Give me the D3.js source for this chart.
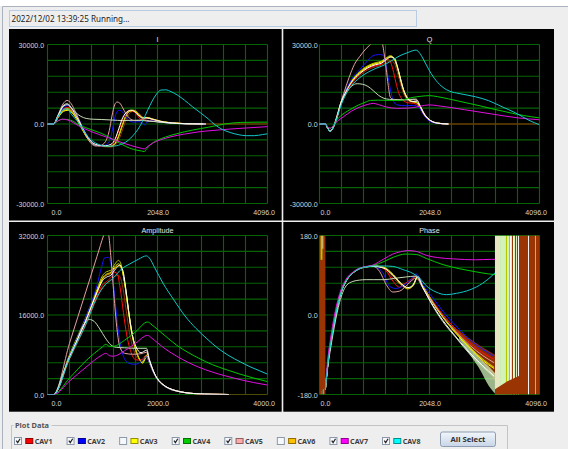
<!DOCTYPE html>
<html>
<head>
<meta charset="utf-8">
<script src="https://cdn.jsdelivr.net/npm/d3@7"></script>
<style>
html,body{margin:0;padding:0;background:#eeeeee;}
svg{display:block;}
</style>
</head>
<body>
<svg id="chart" width="568" height="449"></svg>
<script>
// ---------- series identity ----------
const seriesKeys = ["brown","orange","yellow","red","olive","blue","pink","sage","white","green","magenta","cyan"];

// ---------- I channel ----------
const iBrown = [[0,0],[110,0],[200,2500],[300,5000],[390,5400],[480,4000],[570,1200],[660,-2300],[760,-5600],[880,-7800],[1020,-8500],[1170,-8700],[1260,-8100],[1330,-5800],[1400,-2000],[1470,2000],[1550,4500],[1620,4900],[1690,4200],[1760,2800],[1830,2300],[1900,2200],[2000,1700],[2150,900],[2400,300],[2700,60],[3000,0],[4096,0]];
const iOrange = [[0,0],[110,0],[200,2600],[300,5100],[385,5500],[470,4100],[560,1400],[650,-2100],[750,-5500],[870,-7700],[1000,-8300],[1150,-8500],[1240,-7800],[1310,-5200],[1380,-1200],[1450,2700],[1520,4800],[1590,5100],[1660,4400],[1730,3000],[1790,2300],[1860,2400],[1960,1800],[2100,1000],[2400,300],[2700,60],[2950,0]];
const iYellow = [[0,0],[110,0],[200,2500],[300,4800],[385,5200],[470,3900],[560,1300],[650,-2200],[750,-5600],[870,-7800],[1000,-8300],[1150,-8500],[1240,-7800],[1310,-5300],[1380,-1300],[1450,2600],[1520,4700],[1590,5000],[1660,4300],[1730,2900],[1790,2300],[1860,2400],[1960,1800],[2100,1000],[2400,300],[2700,60],[2950,0]];
const iRed = [[0,0],[110,0],[200,2800],[300,5800],[385,6300],[470,4800],[560,1800],[650,-1800],[750,-5200],[870,-7500],[1000,-8300],[1140,-8500],[1230,-7200],[1300,-4000],[1370,0],[1450,3800],[1530,5100],[1600,4700],[1680,3000],[1740,1700],[1800,1900],[1860,2200],[1960,1600],[2100,900],[2400,300],[2700,60],[2950,0]];
const iOlive = [[0,0],[110,0],[200,2700],[300,5400],[385,5900],[470,4400],[560,1500],[650,-2000],[750,-5400],[870,-7600],[1000,-8200],[1150,-8500],[1240,-7900],[1310,-5500],[1380,-1500],[1450,2500],[1520,4800],[1580,5300],[1650,4800],[1720,3200],[1780,2300],[1850,2500],[1950,1900],[2100,1100],[2400,350],[2700,60],[2950,0]];
const iBlue = [[0,0],[110,0],[200,3000],[300,6300],[385,7000],[460,5600],[530,3700],[620,400],[700,-3000],[800,-6400],[900,-7900],[1000,-8300],[1100,-7700],[1170,-5600],[1220,-1000],[1270,3600],[1330,5200],[1400,4500],[1470,2300],[1540,1000],[1620,700],[1700,900],[1760,400],[1800,-400],[1850,700],[1950,1200],[2100,700],[2400,200],[2700,40],[2950,0]];
const iPink = [[0,0],[110,0],[200,3600],[290,7600],[365,8900],[440,7700],[520,4600],[620,0],[720,-4500],[820,-7500],[900,-8300],[990,-8100],[1080,-6600],[1150,-2500],[1200,3000],[1250,7200],[1295,8300],[1345,7900],[1400,6100],[1460,3900],[1530,2100],[1620,1300],[1720,1400],[1800,1500],[1900,1200],[2050,800],[2300,300],[2600,70],[2900,0]];
const iSage = [[0,0],[110,0],[200,3400],[290,6900],[370,7700],[440,6300],[520,4400],[620,2900],[720,2100],[850,1800],[1000,1700],[1200,1500],[1400,1300],[1600,1400],[1750,1400],[1850,1100],[2000,900],[2300,300],[2600,70],[2900,0]];
const iWhite = [[0,0],[110,0],[200,3200],[290,6600],[370,7300],[450,5800],[540,2800],[630,-600],[730,-4300],[840,-7100],[960,-8000],[1080,-8200],[1180,-7700],[1260,-5600],[1330,-1600],[1400,2400],[1480,4600],[1550,5200],[1620,4700],[1700,3100],[1770,2200],[1840,2300],[1950,1800],[2100,1000],[2400,300],[2700,60],[2950,0]];
const iGreen = [[0,0],[110,0],[180,1000],[280,1800],[380,1700],[480,1000],[580,-300],[700,-1300],[850,-2400],[1000,-3500],[1150,-5000],[1300,-6700],[1450,-8400],[1600,-9600],[1750,-10200],[1800,-10400],[1850,-9300],[1930,-7600],[2050,-6100],[2200,-4900],[2400,-3700],[2700,-2300],[3000,-1200],[3300,0],[3600,600],[3900,700],[4096,700]];
const iMagenta = [[0,0],[110,0],[180,1000],[280,1800],[380,1500],[480,500],[580,-700],[750,-2300],[950,-3900],[1150,-5300],[1350,-6800],[1550,-8100],[1750,-9200],[1800,-9400],[1870,-8400],[1950,-7300],[2100,-6000],[2300,-4800],[2550,-3800],[2800,-3000],[3100,-2400],[3400,-1900],[3700,-1500],[4096,-1000]];
const iCyan = [[0,0],[110,0],[200,3000],[300,5500],[370,5700],[450,3500],[550,1200],[650,-1800],[750,-4700],[850,-6600],[950,-7700],[1100,-8400],[1250,-8300],[1400,-7400],[1500,-6200],[1600,-4200],[1700,-1500],[1780,1500],[1860,5000],[1950,8700],[2030,11300],[2110,12800],[2200,12900],[2300,12200],[2420,10900],[2550,9000],[2700,6500],[2850,4200],[3000,1800],[3100,0],[3250,-2000],[3400,-3200],[3550,-4000],[3700,-4400],[3850,-4400],[4000,-4000],[4096,-3700]];

// ---------- Q channel ----------
const qBrown = [[0,0],[110,0],[150,-1400],[200,-2600],[250,-1400],[300,700],[400,7300],[500,11800],[600,15000],[750,18300],[900,20500],[1050,21600],[1150,22200],[1250,23300],[1330,23900],[1390,23000],[1450,19500],[1510,15000],[1570,11200],[1640,9000],[1740,8100],[1830,7800],[1900,6000],[1970,3400],[2060,1400],[2200,300],[2400,0],[4096,0]];
const qOrange = [[0,0],[110,0],[150,-1500],[200,-2700],[250,-1500],[300,900],[400,8000],[500,12600],[600,16000],[750,19300],[900,21500],[1050,22700],[1150,23200],[1250,24600],[1320,25300],[1380,24700],[1440,21800],[1500,17300],[1560,12900],[1630,9900],[1710,8500],[1800,8100],[1870,6400],[1950,3700],[2050,1500],[2200,300],[2400,0]];
const qYellow = [[0,0],[110,0],[150,-1500],[200,-2700],[250,-1500],[300,900],[400,8100],[500,12800],[600,16200],[750,19500],[900,21700],[1050,22900],[1150,23400],[1250,24900],[1320,25500],[1385,24900],[1445,21900],[1505,17400],[1565,13000],[1635,10000],[1715,8600],[1800,8200],[1870,6500],[1950,3700],[2050,1500],[2200,300],[2400,0]];
const qRed = [[0,0],[110,0],[150,-1500],[200,-2700],[250,-1500],[300,800],[400,7800],[500,12300],[600,15500],[750,18800],[900,21000],[1050,22000],[1150,22600],[1220,23900],[1280,24300],[1330,23000],[1380,19500],[1430,15000],[1480,11500],[1550,9000],[1650,8000],[1750,7800],[1850,6500],[1920,4200],[2000,2000],[2100,700],[2250,100],[2400,0]];
const qOlive = [[0,0],[110,0],[150,-1500],[200,-2800],[250,-1500],[300,1000],[400,8300],[500,13000],[600,16400],[750,19800],[900,22000],[1050,23200],[1150,23700],[1250,25100],[1320,25800],[1380,25100],[1440,22000],[1500,17500],[1560,13000],[1620,10000],[1700,8600],[1800,8200],[1870,6500],[1950,3800],[2050,1600],[2200,300],[2400,0]];
const qBlue = [[0,0],[110,0],[150,-1500],[200,-2800],[250,-1500],[300,1000],[400,7500],[500,13000],[600,17000],[750,20500],[900,24000],[1000,25800],[1100,26200],[1180,26000],[1230,23000],[1280,17500],[1330,12000],[1380,8500],[1450,7200],[1600,6900],[1750,7000],[1850,6300],[1920,4000],[2000,1800],[2100,600],[2250,100],[2400,0]];
const qPink = [[0,0],[110,0],[150,-1500],[200,-2600],[250,-1500],[300,1500],[370,6300],[450,11500],[550,17500],[650,22500],[750,25500],[870,28500],[1000,31000],[1080,33000],[1150,32000],[1200,27000],[1240,21000],[1280,14500],[1320,10000],[1380,9300],[1450,9200],[1600,9100],[1750,9200],[1820,8800],[1880,6500],[1950,3500],[2050,1500],[2200,400],[2400,0]];
const qSage = [[0,0],[110,0],[150,-1500],[200,-2700],[250,-1500],[300,1000],[400,7800],[500,11800],[600,14300],[700,15200],[800,15000],[900,14200],[1000,12600],[1100,10800],[1200,9700],[1300,9300],[1500,9100],[1700,9300],[1800,9400],[1860,7500],[1930,4500],[2000,2500],[2100,900],[2250,200],[2400,0]];
const qWhite = [[0,0],[110,0],[150,-1500],[200,-2800],[250,-1500],[300,900],[400,8000],[500,12500],[600,15800],[750,19000],[900,21200],[1050,22400],[1150,22900],[1250,24400],[1330,25300],[1400,24600],[1460,21000],[1520,16000],[1580,12000],[1640,9600],[1720,8500],[1800,8600],[1860,7200],[1940,4000],[2040,1700],[2200,300],[2400,0]];
const qGreen = [[0,0],[110,0],[150,-1000],[200,-1600],[250,-800],[310,1200],[420,3500],[550,5200],[700,6900],[850,8200],[950,8900],[1100,9000],[1300,8900],[1500,8900],[1700,9900],[1900,10500],[2050,10700],[2200,10300],[2400,9500],[2600,8600],[2800,7700],[3000,6800],[3200,5800],[3400,4900],[3600,4000],[3800,3200],[4096,2300]];
const qMagenta = [[0,0],[110,0],[150,-1000],[200,-1600],[250,-800],[310,600],[450,2800],[600,4900],[750,6400],[900,7400],[1000,7800],[1100,7300],[1250,6400],[1450,5900],[1650,6000],[1800,6400],[1950,7000],[2050,7200],[2200,6900],[2450,6200],[2700,5400],[2950,4600],[3200,3800],[3450,3000],[3700,2300],[3900,1900],[4096,1600]];
const qCyan = [[0,0],[110,0],[150,-1500],[200,-2800],[250,-1500],[300,800],[400,7000],[500,11500],[600,14500],[750,17500],[900,19500],[1050,21000],[1200,22200],[1350,24000],[1500,25800],[1650,27000],[1800,27900],[1870,26600],[1950,23800],[2050,20000],[2170,16400],[2300,13800],[2420,12400],[2600,11500],[2900,10300],[3150,8800],[3400,6500],[3650,4200],[3900,1400],[4096,-300]];

// ---------- Amplitude ----------
const aBrown = [[0,0],[110,0],[400,7100],[700,14100],[900,19400],[1000,21600],[1070,22300],[1150,22900],[1250,24000],[1310,23800],[1370,21500],[1430,17000],[1490,12500],[1560,9200],[1650,7200],[1740,7000],[1800,7800],[1850,6700],[1900,5300],[1950,4000],[2000,3100],[2100,1950],[2200,1250],[2350,700],[2500,380],[2700,160],[3000,50],[3300,0],[4000,0]];
const aOrange = [[0,0],[110,0],[400,7700],[700,15100],[900,20600],[1000,23200],[1070,24000],[1150,24400],[1230,25500],[1300,25900],[1350,25200],[1410,22000],[1470,17200],[1530,12800],[1590,9600],[1660,7400],[1730,6500],[1800,7700],[1850,6600],[1900,5200],[1950,3900],[2000,3050],[2100,1900],[2200,1200],[2350,680],[2500,370],[2700,150],[3000,45],[3300,0]];
const aYellow = [[0,0],[110,0],[400,7800],[700,15300],[900,20800],[1000,23400],[1070,24200],[1150,24600],[1230,25800],[1295,26300],[1345,25500],[1405,22300],[1465,17500],[1525,13000],[1585,9800],[1655,7500],[1730,6300],[1800,7600],[1850,6500],[1900,5100],[1950,3900],[2000,3000],[2100,1900],[2200,1200],[2350,680],[2500,370],[2700,150],[3000,45],[3300,0]];
const aRed = [[0,0],[110,0],[400,7300],[700,14400],[900,19900],[1000,22100],[1070,22700],[1150,23500],[1220,24600],[1270,24300],[1320,21500],[1380,16500],[1440,12000],[1510,8800],[1600,7000],[1700,6900],[1800,7900],[1850,6700],[1900,5300],[1950,4000],[2000,3100],[2100,1950],[2200,1250],[2350,700],[2500,380],[2700,160],[3000,50],[3300,0]];
const aOlive = [[0,0],[110,0],[400,8000],[700,15600],[900,21200],[1000,23900],[1070,24700],[1150,25000],[1230,26300],[1290,27000],[1340,26100],[1400,22600],[1460,17600],[1520,13000],[1580,9800],[1650,7500],[1720,6600],[1800,7900],[1850,6700],[1900,5300],[1950,4000],[2000,3100],[2100,1950],[2200,1250],[2350,700],[2500,380],[2700,160],[3000,50],[3300,0]];
const aBlue = [[0,0],[110,0],[400,7700],[700,15600],[900,22000],[980,25500],[1040,27500],[1110,27600],[1160,25800],[1210,21000],[1270,14500],[1330,9800],[1410,7000],[1500,6200],[1600,6100],[1700,6600],[1800,7600],[1850,6500],[1900,5100],[1950,3900],[2000,3000],[2100,1900],[2200,1200],[2350,680],[2500,370],[2700,150],[3000,45],[3300,0]];
const aPink = [[0,0],[110,0],[400,10300],[700,20800],[900,27800],[1020,32000],[1070,33500],[1110,32300],[1150,28000],[1190,22500],[1230,17000],[1270,12500],[1320,9400],[1400,8300],[1550,8100],[1700,8200],[1800,8500],[1850,6900],[1900,5400],[1950,4100],[2000,3150],[2100,2000],[2200,1300],[2350,720],[2500,390],[2700,160],[3000,50],[3300,0]];
const aSage = [[0,0],[110,0],[300,4800],[500,9800],[650,13900],[760,15100],[850,14700],[950,13200],[1050,11400],[1150,10000],[1250,9500],[1400,9400],[1600,9300],[1800,9300],[1850,7200],[1900,5500],[1950,4100],[2000,3150],[2100,2000],[2200,1300],[2350,720],[2500,390],[2700,160],[3000,50],[3300,0]];
const aWhite = [[0,0],[110,0],[400,7600],[700,14900],[900,20500],[1000,22900],[1070,23600],[1150,24000],[1240,25300],[1310,26000],[1370,25000],[1430,20800],[1490,15600],[1550,11600],[1610,9600],[1700,8400],[1800,8900],[1850,7000],[1900,5400],[1950,4100],[2000,3150],[2100,2000],[2200,1300],[2350,720],[2500,390],[2700,160],[3000,50],[3300,0]];
const aGreen = [[0,0],[110,0],[400,3300],[700,6800],[1000,9600],[1060,10100],[1130,9700],[1200,9700],[1400,10900],[1600,12600],[1820,14600],[1900,14000],[2000,13100],[2150,11700],[2350,9900],[2550,8500],[2750,7300],[3000,6000],[3250,5000],[3500,4100],[3750,3300],[4000,2600]];
const aMagenta = [[0,0],[110,0],[400,2700],[700,5500],[1000,8000],[1060,8300],[1130,7800],[1200,7700],[1400,8800],[1600,10300],[1820,11900],[1900,11300],[2000,10400],[2150,9100],[2350,7700],[2550,6500],[2750,5500],[3000,4500],[3250,3700],[3500,3000],[3750,2400],[4000,1900]];
const aCyan = [[0,0],[110,0],[400,7300],[700,14200],[900,19600],[1050,22100],[1200,23500],[1350,25300],[1500,26300],[1650,27200],[1800,27900],[1850,27500],[1950,25500],[2100,22400],[2300,19000],[2500,15800],[2700,13300],[2900,11200],[3100,9300],[3300,7800],[3500,6600],[3700,5500],[3850,4800],[4000,4100]];

// ---------- Phase ----------
const pRise = [[110,-168],[155,-112],[217,-59],[279,-14],[372,39],[496,77],[621,95],[745,105],[869,109]];
const pBrown = [...pRise,[1000,111],[1150,108],[1280,96],[1400,80],[1520,70],[1630,72],[1740,82],[1810,88],[1920,66],[2110,30],[2300,0],[2550,-34],[2800,-65],[3050,-90],[3250,-104]];
const pOrange = [...pRise,[1000,111],[1200,107],[1365,90],[1550,65],[1645,59],[1740,66],[1830,87],[1925,66],[2110,28],[2300,-5],[2550,-41],[2800,-73],[3050,-101],[3250,-118]];
const pYellow = [...pRise,[1000,111],[1200,108],[1370,92],[1555,67],[1650,61],[1745,67],[1832,86],[1926,65],[2110,27],[2300,-6],[2550,-43],[2800,-75],[3050,-104],[3250,-121]];
const pRed = [...pRise,[1000,111],[1117,110],[1241,100],[1365,77],[1490,63],[1614,73],[1738,84],[1800,88],[1924,65],[2110,31],[2296,1],[2545,-33],[2793,-63],[3041,-86],[3250,-100]];
const pOlive = [...pRise,[1000,111],[1200,107],[1365,91],[1551,66],[1645,60],[1738,66],[1831,87],[1924,67],[2110,29],[2296,-4],[2545,-40],[2793,-72],[3041,-100],[3250,-120]];
const pBlue = [...pRise,[1000,110],[1117,104],[1179,96],[1303,65],[1427,60],[1551,66],[1676,77],[1800,93],[1924,69],[2110,39],[2296,9],[2545,-25],[2793,-55],[3041,-78],[3250,-93]];
const pPink = [...pRise,[1000,110],[1117,99],[1241,69],[1365,52],[1490,54],[1614,66],[1738,80],[1800,84],[1924,61],[2110,28],[2296,-3],[2545,-38],[2793,-68],[3041,-92],[3250,-108]];
const pSage = [[110,-168],[155,-118],[217,-68],[279,-25],[372,28],[496,66],[621,76],[745,79],[869,80],[1000,80],[1200,80],[1400,83],[1600,86],[1800,88],[1924,62],[2110,20],[2296,-15],[2545,-52],[2793,-88],[3041,-118],[3250,-140]];
const pWhite = [...pRise,[1000,110],[1200,106],[1365,90],[1551,68],[1645,62],[1738,68],[1831,87],[1924,62],[2110,22],[2296,-12],[2545,-50],[2793,-85],[3041,-115],[3250,-138]];
const pGreen = [[110,-166],[152,-108],[214,-54],[275,-10],[368,41],[493,79],[621,96],[745,106],[869,109],[993,112],[1100,116],[1200,121],[1400,132],[1600,138],[1800,137],[1990,128],[2300,114],[2600,105],[2900,98],[3150,93],[3420,90]];
const pMagenta = [[110,-165],[150,-105],[210,-50],[270,-6],[360,42],[490,80],[620,97],[745,106],[869,110],[993,113],[1100,120],[1200,127],[1365,138],[1500,143],[1650,146],[1800,144],[1990,135],[2200,130],[2500,127],[2900,125],[3200,126],[3440,126]];
const pCyan = [...pRise,[1000,111],[1200,111],[1365,110],[1550,103],[1740,94],[1860,84],[1990,66],[2170,52],[2360,46],[2550,49],[2800,57],[3040,72],[3230,91],[3350,106]];

// noisy tail of the phase traces: [x, low, high]
const phaseNoiseDark = [[2450,-32,-22],[2650,-56,-40],[2850,-82,-58],[3050,-110,-74],[3270,-150,-90]];
const phaseNoiseLight = [[2600,-55,-46],[2800,-90,-72],[3000,-126,-100],[3150,-160,-116],[3270,-178,-132]];
const phaseNoiseFloor = [[3267,-180,-168],[3500,-180,-150],[3752,-180,-136]];
// wrapped-phase stripes: [x0, x1, trace]
const phaseStripes = [[3267,3361,"beige"],[3361,3472,"mint"],[3472,3491,"olive"],[3491,3528,"mint"],[3528,3547,"olive"],[3547,3565,"white"],[3565,3584,"beige"],[3584,3603,"brown"],[3603,3621,"white"],[3621,3640,"mint"],[3640,3658,"brown"],[3658,3677,"beige"],[3677,3696,"brown"],[3696,3714,"white"],[3714,3882,"brown"],[3882,3900,"white"],[3900,4013,"brown"],[4013,4031,"pink"],[4031,4096,"brown"]];
// start-up region of the phase plot: [x0, x1, y0, y1, trace]
const phaseEdge = [[0,110,-180,180,"brown"],[20,55,125,180,"olive"],[55,70,150,180,"beige"],[60,85,-180,-168,"cyan"],[30,45,-180,-172,"magenta"]];

// ---------- axes ----------
const iqXTicks = [0, 2048, 4096];
const iqYTicks = [-30000, 0, 30000];
const ampXTicks = [0, 2000, 4000];
const ampYTicks = [0, 16000, 32000];
const phaseYTicks = [-180, 0, 180];

// ---------- legend ----------
const legendLabels = ["CAV1","CAV2","CAV3","CAV4","CAV5","CAV6","CAV7","CAV8"];
const legendChecked = [true, true, false, true, true, false, true, true];

// ---------- styling ----------
const palette = {brown:"#9a3403", orange:"#ffa500", yellow:"#ffff00", red:"#ff1010", olive:"#b4c800",
  blue:"#1414ff", pink:"#e4a0a0", sage:"#c4dcb4", white:"#ffffff", green:"#00c800",
  magenta:"#e010e0", cyan:"#10c8c8", beige:"#e6e6c2", mint:"#d2f2b8"};
const legendColors = ["#ff0000","#0000ff","#ffff00","#00cc00","#ffaaaa","#ffc000","#ff00ff","#00ffff"];
const uiFont = "'Noto Sans', 'DejaVu Sans', sans-serif";
const plotFont = "'Liberation Sans', Arial, sans-serif";

const fmt = d3.formatLocale({decimal:".", thousands:"", grouping:[3], currency:["",""], minus:"-"}).format(".1f");

const svg = d3.select("#chart");

// window chrome
svg.append("rect").attr("width",568).attr("height",449).attr("fill","#eeeeee");
svg.append("rect").attr("width",568).attr("height",6).attr("fill","#ffffff");
svg.append("path").attr("d","M2.5,449V6.5H568").attr("fill","none").attr("stroke","#aab2c0");

// status line
svg.append("rect").attr("x",9.5).attr("y",10.5).attr("width",407).attr("height",16)
  .attr("fill","#eeeeee").attr("stroke","#b9cde2");
svg.append("text").attr("x",11.5).attr("y",22).attr("font-family",uiFont).attr("font-size",8.1)
  .attr("fill","#222").text("2022/12/02 13:39:25 Running...");

const panels = [
  {title:"I", box:[9,29,272.7,191.5], plot:[47.5,44.5,220,159], xd:[0,4096], yd:[-30000,30000],
   xt:iqXTicks, yt:iqYTicks, ypad:3.3, x0pad:3.5,
   series:[iBrown,iOrange,iYellow,iRed,iOlive,iBlue,iPink,iSage,iWhite,iGreen,iMagenta,iCyan]},
  {title:"Q", box:[283.3,29,270.7,191.5], plot:[319.5,44.5,220,159], xd:[0,4096], yd:[-30000,30000],
   xt:iqXTicks, yt:iqYTicks, ypad:1.8, x0pad:0.5,
   series:[qBrown,qOrange,qYellow,qRed,qOlive,qBlue,qPink,qSage,qWhite,qGreen,qMagenta,qCyan]},
  {title:"Amplitude", box:[9,222,272.7,189.7], plot:[47.5,235.5,220,159], xd:[0,4000], yd:[0,32000],
   xt:ampXTicks, yt:ampYTicks, ypad:3.3, x0pad:3.5,
   series:[aBrown,aOrange,aYellow,aRed,aOlive,aBlue,aPink,aSage,aWhite,aGreen,aMagenta,aCyan]},
  {title:"Phase", box:[283.3,222,270.7,189.7], plot:[319.5,235.5,220,159], xd:[0,4096], yd:[-180,180],
   xt:iqXTicks, yt:phaseYTicks, ypad:1.8, x0pad:0.5, phase:true,
   series:[pBrown,pOrange,pYellow,pRed,pOlive,pBlue,pPink,pSage,pWhite,pGreen,pMagenta,pCyan]}
];

panels.forEach((p, pi) => {
  const [bx, by, bw, bh] = p.box;
  const [px, py, pw, ph] = p.plot;
  const g = svg.append("g");
  g.append("rect").attr("x",bx).attr("y",by).attr("width",bw).attr("height",bh).attr("fill","#000");

  const x = d3.scaleLinear().domain(p.xd).range([px, px + pw]);
  const y = d3.scaleLinear().domain(p.yd).range([py + ph, py]);

  // 10 x 10 grid
  const gx = d3.range(11).map(i => p.xd[0] + i * (p.xd[1] - p.xd[0]) / 10);
  const gy = d3.range(11).map(i => p.yd[0] + i * (p.yd[1] - p.yd[0]) / 10);
  g.append("g").selectAll("line").data(gx).join("line")
    .attr("x1", d => x(d)).attr("x2", d => x(d)).attr("y1", py).attr("y2", py + ph)
    .attr("stroke","#066306").attr("stroke-width",1.1);
  g.append("g").selectAll("line").data(gy).join("line")
    .attr("y1", d => y(d)).attr("y2", d => y(d)).attr("x1", px).attr("x2", px + pw)
    .attr("stroke","#066306").attr("stroke-width",1.1);

  // title
  g.append("text").attr("x", px + pw / 2).attr("y", py - 3).attr("text-anchor","middle")
    .attr("font-family", plotFont).attr("font-size", 7.2).attr("fill","#e4e4e4").text(p.title);

  // axes
  const ya = g.append("g").attr("transform", `translate(${px},0)`)
    .call(d3.axisLeft(y).tickValues(p.yt).tickSize(0).tickPadding(p.ypad).tickFormat(fmt));
  const xa = g.append("g").attr("transform", `translate(0,${py + ph})`)
    .call(d3.axisBottom(x).tickValues(p.xt).tickSize(0).tickPadding(0).tickFormat(fmt));
  [ya, xa].forEach(a => {
    a.select(".domain").remove();
    a.attr("font-family", plotFont).attr("font-size", 7.1);
    a.selectAll("text").attr("fill", "#d4d4d4");
  });
  ya.selectAll("text").attr("dy", "0.36em");
  xa.selectAll("text").attr("y", 11.8).attr("dy", 0)
    .attr("text-anchor", (d, i) => i === 0 ? "start" : (i === 2 ? "end" : "middle"))
    .attr("x", (d, i) => i === 0 ? p.x0pad : (i === 2 ? 7 : 0));

  // clip for traces
  const cid = "clip" + pi;
  svg.append("clipPath").attr("id", cid).append("rect")
    .attr("x", px).attr("y", py).attr("width", pw).attr("height", ph);
  const plot = g.append("g").attr("clip-path", `url(#${cid})`);

  const band = d3.area().x(d => x(d[0])).y0(d => y(d[1])).y1(d => y(d[2]));
  if (p.phase) {
    plot.selectAll("rect.edge").data(phaseEdge).join("rect").attr("class","edge")
      .attr("x", d => x(d[0])).attr("width", d => x(d[1]) - x(d[0]))
      .attr("y", d => y(d[3])).attr("height", d => y(d[2]) - y(d[3]))
      .attr("fill", d => palette[d[4]]);
    plot.append("path").attr("d", band.curve(d3.curveMonotoneX)(phaseNoiseDark)).attr("fill", palette.brown).attr("opacity",0.85);
    plot.append("path").attr("d", band.curve(d3.curveMonotoneX)(phaseNoiseLight)).attr("fill", palette.mint).attr("opacity",0.75);
  }

  const line = d3.line().x(d => x(d[0])).y(d => y(d[1])).curve(d3.curveMonotoneX);
  plot.selectAll("path.trace").data(p.series).join("path").attr("class","trace")
    .attr("d", line).attr("fill","none")
    .attr("stroke", (d, i) => palette[seriesKeys[i]]).attr("stroke-width", 1);

  if (p.phase) {
    plot.selectAll("rect.stripe").data(phaseStripes).join("rect").attr("class","stripe")
      .attr("x", d => x(d[0])).attr("width", d => x(d[1]) - x(d[0]))
      .attr("y", y(180)).attr("height", y(-180) - y(180))
      .attr("fill", d => palette[d[2]]);
    plot.append("path").attr("d", band.curve(d3.curveLinear)(phaseNoiseFloor)).attr("fill", palette.brown);
  }
});

// ---------- legend group ----------
const lg = svg.append("g");
lg.append("path").attr("d","M11.5,449V425.5H13.5M51.5,425.5H507.5V449")
  .attr("fill","none").attr("stroke","#c4c4c4");
lg.append("text").attr("x",15).attr("y",428).attr("font-family",uiFont).attr("font-weight","bold")
  .attr("font-size",7.4).attr("fill","#555").text("Plot Data");

const item = lg.selectAll("g.item").data(legendLabels).join("g").attr("class","item")
  .attr("transform", (d, i) => `translate(${14.5 + i * 52.57},0)`);
item.append("rect").attr("x",0).attr("y",437.5).attr("width",7).attr("height",7)
  .attr("fill","#f7f8fb").attr("stroke","#8c99aa");
item.filter((d, i) => legendChecked[i]).append("path")
  .attr("d","M1.8,440.6L3.2,442.6L5.6,438.8").attr("fill","none").attr("stroke","#222").attr("stroke-width",1.2);
item.append("rect").attr("x",11.3).attr("y",438.5).attr("width",7).attr("height",5)
  .attr("fill", (d, i) => legendColors[i])
  .attr("stroke", (d, i) => d3.color(legendColors[i]).darker(1.6));
item.append("text").attr("x",20.2).attr("y",444).attr("font-family",uiFont).attr("font-weight","bold")
  .attr("font-size",7.1).attr("fill","#3c3c3c").text(d => d);

// button
const grad = svg.append("defs").append("linearGradient").attr("id","btn").attr("x1",0).attr("x2",0).attr("y1",0).attr("y2",1);
grad.append("stop").attr("offset","0%").attr("stop-color","#f2f6fb");
grad.append("stop").attr("offset","100%").attr("stop-color","#c8d5e6");
svg.append("rect").attr("x",440.5).attr("y",432).attr("width",55).attr("height",14.5).attr("rx",2)
  .attr("fill","url(#btn)").attr("stroke","#8d9db2");
svg.append("text").attr("x",468).attr("y",442.2).attr("text-anchor","middle").attr("font-family",uiFont)
  .attr("font-weight","bold").attr("font-size",7.7).attr("fill","#333").text("All Select");
</script>
</body>
</html>
